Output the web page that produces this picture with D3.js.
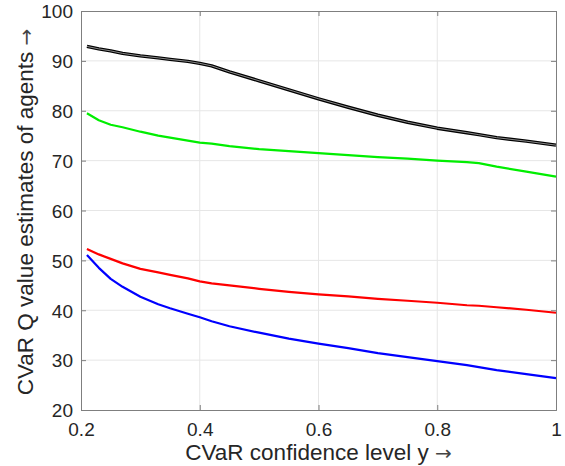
<!DOCTYPE html>
<html><head><meta charset="utf-8">
<script src="https://cdn.jsdelivr.net/npm/d3@7"></script>
<style>body{margin:0;background:#fff}svg{display:block}</style>
</head><body>
<svg id="c" width="565" height="466"></svg>
<script>
const xs = [0.21,0.23,0.25,0.27,0.3,0.33,0.35,0.38,0.4,0.42,0.45,0.5,0.55,0.6,0.65,0.7,0.75,0.8,0.85,0.87,0.9,0.95,1.0];
const blackSeries = [92.9,92.4,92.0,91.5,91.0,90.6,90.3,89.9,89.5,89.0,87.8,86.0,84.2,82.4,80.7,79.1,77.7,76.5,75.6,75.2,74.6,73.9,73.1];
const greenSeries = [79.5,78.1,77.2,76.7,75.8,75.0,74.6,74.0,73.6,73.4,72.9,72.3,71.9,71.5,71.1,70.7,70.4,70.0,69.7,69.5,68.8,67.8,66.8];
const redSeries   = [52.3,51.2,50.3,49.4,48.3,47.6,47.1,46.4,45.8,45.4,45.0,44.3,43.7,43.2,42.8,42.3,41.9,41.5,41.0,40.9,40.6,40.1,39.5];
const blueSeries  = [51.1,48.5,46.3,44.7,42.7,41.2,40.4,39.3,38.6,37.8,36.8,35.5,34.3,33.3,32.4,31.4,30.6,29.8,29.0,28.6,28.0,27.2,26.4];
const xTicks = [0.2,0.4,0.6,0.8,1];
const yTicks = [20,30,40,50,60,70,80,90,100];
const xLabel = "CVaR confidence level y ";
const yLabel = "CVaR Q value estimates of agents ";
const arrow = "\u2192";

(function(){
const L=81, R=556, T=11, B=410;
const svg = d3.select("#c");
const x = d3.scaleLinear().domain([0.2,1]).range([L,R]);
const y = d3.scaleLinear().domain([20,100]).range([B,T]);
const font = "'Liberation Sans', Arial, Helvetica, sans-serif";

// grid
const g = svg.append("g");
g.selectAll(".gx").data(xTicks.slice(1,-1)).join("line")
  .attr("x1",d=>x(d)).attr("x2",d=>x(d)).attr("y1",T).attr("y2",B)
  .attr("stroke","#e6e6e6").attr("stroke-width",1);
g.selectAll(".gy").data(yTicks.slice(1,-1)).join("line")
  .attr("y1",d=>y(d)).attr("y2",d=>y(d)).attr("x1",L).attr("x2",R)
  .attr("stroke","#e6e6e6").attr("stroke-width",1);

// lines
const line = d3.line().x((d,i)=>x(xs[i])).y(d=>y(d));
const series = [
  {v:blueSeries,c:"#0000ff"},
  {v:redSeries,c:"#ff0000"},
  {v:greenSeries,c:"#00ee00"},
];
series.forEach(s=>{
  svg.append("path").attr("d",line(s.v)).attr("fill","none")
    .attr("stroke",s.c).attr("stroke-width",2.2).attr("stroke-linejoin","round");
});
svg.append("path").attr("d",line(blackSeries)).attr("fill","none")
  .attr("stroke","#000").attr("stroke-width",3.4).attr("stroke-linejoin","round");
svg.append("path").attr("d",line(blackSeries)).attr("fill","none")
  .attr("stroke","#9a9a9a").attr("stroke-width",0.9).attr("stroke-linejoin","round");

// axes (box with inward ticks)
const axCol = "#7f7f7f";
const tl = 5;
const axG = svg.append("g");
const axBottom = axG.append("g").attr("transform",`translate(0,${B})`)
  .call(d3.axisBottom(x).tickValues(xTicks).tickSize(-tl).tickPadding(10).tickFormat(d=>d===1?"1":d3.format(".1f")(d)));
const axTop = axG.append("g").attr("transform",`translate(0,${T})`)
  .call(d3.axisTop(x).tickValues(xTicks).tickSize(-tl).tickFormat(""));
const axLeft = axG.append("g").attr("transform",`translate(${L},0)`)
  .call(d3.axisLeft(y).tickValues(yTicks).tickSize(-tl).tickPadding(8));
const axRight = axG.append("g").attr("transform",`translate(${R},0)`)
  .call(d3.axisRight(y).tickValues(yTicks).tickSize(-tl).tickFormat(""));
[axBottom,axTop,axLeft,axRight].forEach(a=>{
  a.select(".domain").attr("stroke",axCol).attr("stroke-width",1);
  a.selectAll(".tick line").attr("stroke",axCol);
  a.selectAll("text").attr("fill","#262626").style("font-family",font).style("font-size","19px");
});
axBottom.selectAll("text").attr("dy","0.85em");
axLeft.selectAll("text").attr("dy","0.36em");

const xl = svg.append("text").attr("x",(L+R)/2).attr("y",460)
  .attr("text-anchor","middle").attr("fill","#262626")
  .style("font-family",font).style("font-size","22.5px");
xl.append("tspan").text(xLabel);
xl.append("tspan").text(arrow).style("font-family","'DejaVu Sans'").style("font-size","20px").attr("fill","#444");

const yl = svg.append("text")
  .attr("transform",`translate(33,212) rotate(-90)`)
  .attr("text-anchor","middle").attr("fill","#262626")
  .style("font-family",font).style("font-size","22.5px");
yl.append("tspan").text(yLabel);
yl.append("tspan").text(arrow).style("font-family","'DejaVu Sans'").style("font-size","20px").attr("fill","#444");
})();
</script>
</body></html>
